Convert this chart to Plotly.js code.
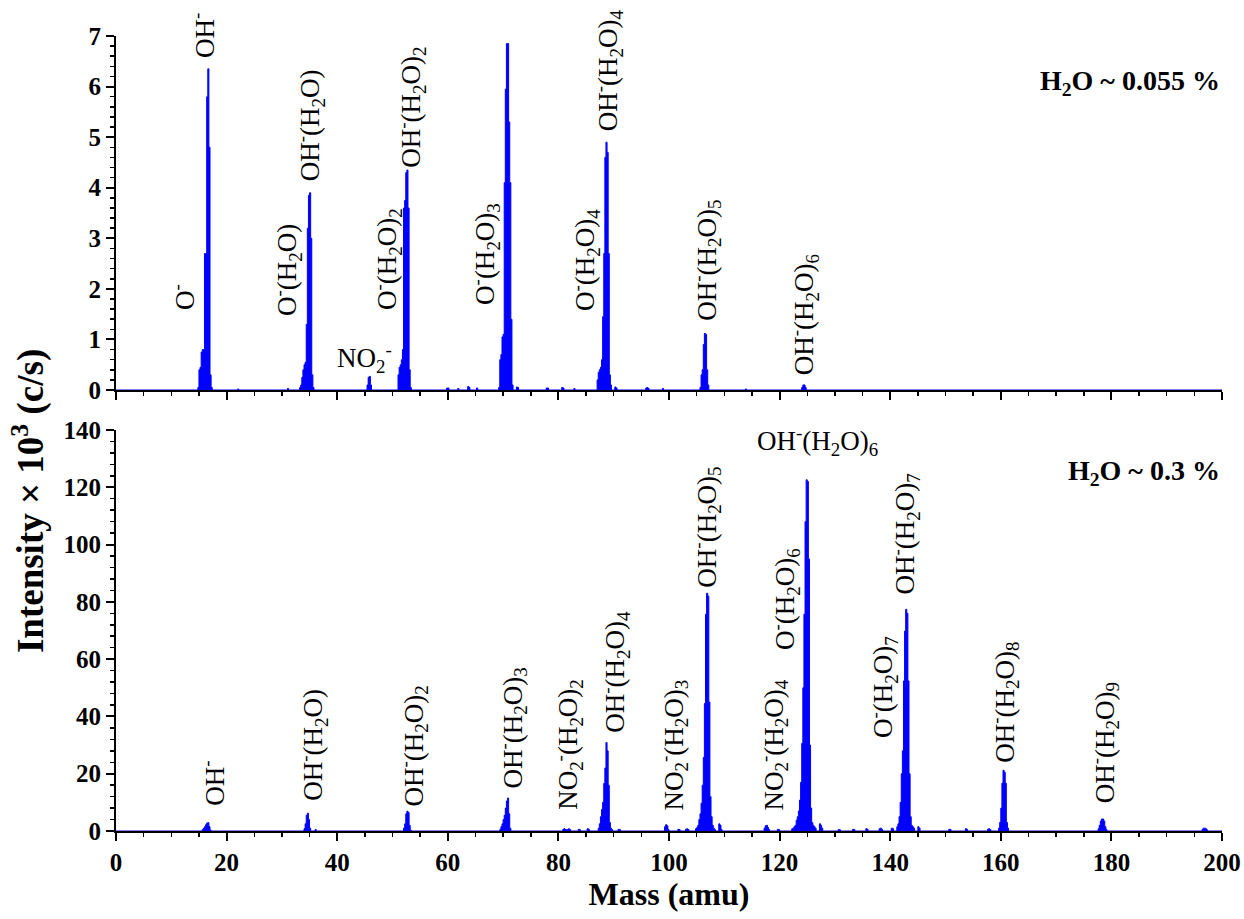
<!DOCTYPE html>
<html>
<head>
<meta charset="utf-8">
<script src="https://cdn.plot.ly/plotly-3.0.1.min.js"></script>
<style>html,body{margin:0;padding:0;background:#fff;}#chart{width:1244px;height:919px;}</style>
</head>
<body>
<div id="chart"></div>
<script>
// ---------- Top panel spectrum (H2O ~ 0.055 %) ----------
const massTop = [0,
14.6,14.8,15.0,15.2,15.4,15.6,15.8,16.0,16.2,16.4,16.6,16.8,17.0,17.2,17.4,
21.8,22.0,22.2,
30.8,31.0,31.2,
33.0,33.2,33.4,33.6,33.8,34.0,34.2,34.4,34.6,34.8,35.0,35.2,35.4,35.6,35.8,
45.2,45.4,45.6,45.8,46.0,46.2,
50.8,51.0,51.2,51.4,51.6,51.8,52.0,52.2,52.4,52.6,52.8,53.0,53.2,53.4,
59.6,59.8,60.0,60.2,
61.6,61.8,62.0,
63.4,63.6,63.8,64.0,
65.0,65.2,65.4,
69.0,69.2,69.4,69.6,69.8,70.0,70.2,70.4,70.6,70.8,71.0,71.2,71.4,71.6,71.8,
72.2,72.4,72.6,72.8,
77.6,77.8,78.0,78.2,
80.4,80.6,80.8,81.0,
82.6,82.8,83.0,
86.8,87.0,87.2,87.4,87.6,87.8,88.0,88.2,88.4,88.6,88.8,89.0,89.2,89.4,89.6,
90.0,90.2,90.4,90.6,
95.6,95.8,96.0,96.2,96.4,
98.6,98.8,99.0,
105.4,105.6,105.8,106.0,106.2,106.4,106.6,106.8,107.0,107.2,
113.6,113.8,114.0,
123.8,124.0,124.2,124.4,124.6,124.8,
200];
const intTop = [0,
0,0.05,0.4,0.45,0.75,0.8,0.8,2.7,2.7,5.8,6.35,4.8,0.3,0.05,0,
0,0.02,0,
0,0.03,0,
0,0.05,0.1,0.25,0.4,0.5,0.55,1.3,3.2,3.85,3.9,3.0,0.3,0.05,0,
0,0.1,0.25,0.27,0.1,0,
0,0.3,0.45,0.5,0.6,0.8,3.6,3.75,4.3,4.35,3.6,0.4,0.05,0,
0,0.04,0.04,0,
0,0.03,0,
0,0.07,0.05,0,
0,0.04,0,
0,0.05,0.6,0.7,1.05,1.1,4.1,5.95,6.85,6.85,5.3,4.1,1.4,0.1,0,
0,0.06,0.05,0,
0,0.04,0.04,0,
0,0.05,0.04,0,
0,0.03,0,
0,0.2,0.35,0.4,0.45,0.6,1.45,2.7,4.6,4.9,4.7,2.7,0.3,0.1,0,
0,0.06,0.04,0,
0,0.04,0.05,0.03,0,
0,0.03,0,
0,0.05,0.3,0.4,0.9,1.12,1.1,0.4,0.1,0,
0,0.02,0,
0,0.05,0.1,0.1,0.05,0,
0];

// ---------- Bottom panel spectrum (H2O ~ 0.3 %) ----------
const massBot = [0,
15.4,15.6,15.8,16.0,16.2,16.4,16.6,16.8,17.0,17.2,
33.8,34.0,34.2,34.4,34.6,34.8,35.0,35.2,35.8,36.0,36.2,
51.8,52.0,52.2,52.4,52.6,52.8,53.0,53.2,53.4,
69.2,69.4,69.6,69.8,70.0,70.2,70.4,70.6,70.8,71.0,71.2,71.4,
80.6,80.8,81.0,81.2,81.4,81.6,81.8,82.0,82.2,83.4,83.6,83.8,84.0,85.0,85.2,85.4,85.6,
87.0,87.2,87.4,87.6,87.8,88.0,88.2,88.4,88.6,88.8,89.0,89.2,89.4,89.6,89.8,90.6,90.8,91.0,91.2,
99.0,99.2,99.4,99.6,99.8,100.0,101.4,101.6,101.8,102.0,102.8,103.0,103.2,103.4,103.6,
104.6,104.8,105.0,105.2,105.4,105.6,105.8,106.0,106.2,106.4,106.6,106.8,107.0,107.2,107.4,107.6,107.8,108.0,108.2,108.4,108.8,109.0,109.2,109.4,109.6,
117.0,117.2,117.4,117.6,117.8,118.0,118.2,119.4,119.6,119.8,120.0,
122.0,122.2,122.4,122.6,122.8,123.0,123.2,123.4,123.6,123.8,124.0,124.2,124.4,124.6,124.8,125.0,125.2,125.4,125.6,125.8,126.0,126.2,126.4,126.6,127.0,127.2,127.4,127.6,127.8,
130.4,130.6,130.8,131.0,133.0,133.2,133.4,133.6,135.4,135.6,135.8,136.0,137.8,138.0,138.2,138.4,138.6,140.0,140.2,140.4,140.6,
141.0,141.2,141.4,141.6,141.8,142.0,142.2,142.4,142.6,142.8,143.0,143.2,143.4,143.6,143.8,144.0,144.2,144.4,144.8,145.0,145.2,145.4,
150.4,150.6,150.8,151.0,153.4,153.6,153.8,154.0,157.4,157.6,157.8,158.0,158.2,
159.4,159.6,159.8,160.0,160.2,160.4,160.6,160.8,161.0,161.2,161.4,
177.4,177.6,177.8,178.0,178.2,178.4,178.6,178.8,179.0,179.2,
196.2,196.4,196.6,196.8,197.0,197.2,197.4,
200];
const intBot = [0,
0,0.5,1.0,1.5,2.2,2.8,2.9,1.5,0.3,0,
0,0.8,2.5,5.5,6.2,4.0,1.0,0,0,0.5,0,
0,1.0,2.5,6.0,6.9,6.5,2.0,0.3,0,
0,0.5,1.5,2.5,4.0,5.5,8.0,10.5,11.5,6.0,1.0,0,
0,0.6,0.8,0.5,0.4,0.5,0.8,0.5,0,0,0.6,0.4,0,0,0.8,0.6,0,
0,1.0,2.5,5.0,7.5,10.0,16.6,22.0,30.9,28.0,16.0,3.0,1.0,0.5,0,0,0.6,0.5,0,
0,1.5,2.2,1.8,0.5,0,0,0.6,0.5,0,0,0.6,0.8,0.5,0,
0,0.8,1.2,2.0,4.0,6.0,9.7,16.0,25.7,44.5,75.7,83.0,82.0,45.0,12.0,5.0,2.0,1.0,0.5,0,0,2.5,2.0,0.5,0,
0,1.0,1.8,2.0,1.2,0.5,0,0,0.6,0.5,0,
0,0.8,1.0,1.5,2.0,3.8,5.0,7.0,10.8,17.0,30.6,50.0,75.7,108.0,122.6,122.0,95.0,30.0,8.0,3.0,2.0,1.5,1.0,0,0,2.5,2.0,1.0,0,
0,0.5,0.4,0,0,0.6,0.5,0,0,0.8,0.6,0,0,0.8,1.0,0.6,0,0,1.0,0.8,0,
0,1.5,2.5,5.0,10.0,20.0,28.0,52.4,69.8,77.4,76.0,52.4,20.0,5.0,2.0,1.5,1.0,0,0,1.5,1.0,0,
0,0.6,0.5,0,0,0.8,0.6,0,0,0.6,0.8,0.5,0,
0,1.0,3.0,8.0,16.7,21.2,20.5,16.7,3.0,1.0,0,
0,0.8,2.0,3.5,4.2,4.2,3.5,1.5,0.5,0,
0,0.6,1.0,1.0,0.8,0.4,0,
0];

// ---------- Peak labels ----------
const OHm = 'OH<sup>-</sup>';
const Om = 'O<sup>-</sup>';
const NO2m = 'NO<sub>2</sub><sup>-</sup>';
const W = n => '(H<sub>2</sub>O)' + (n > 1 ? '<sub>' + n + '</sub>' : '');

const labelsTop = [Om, OHm, Om + W(1), OHm + W(1), NO2m, Om + W(2), OHm + W(2), Om + W(3), OHm + W(3), Om + W(4), OHm + W(4), OHm + W(5), OHm + W(6)];
const labelTopX = [12.1, 15.7, 30.9, 35.1, 45.0, 49.0, 53.2, 66.7, 72.3, 84.8, 89.0, 106.7, 124.4];
const labelTopY = [1.54, 6.53, 1.42, 4.09, 0.63, 1.54, 4.35, 1.64, 7.28, 1.52, 5.08, 1.32, 0.26];
const labelTopVertical = [true, true, true, true, false, true, true, true, false, true, true, true, true];

const labelsBot = [OHm, OHm + W(1), OHm + W(2), OHm + W(3), NO2m + W(2), OHm + W(4), NO2m + W(3), OHm + W(5), NO2m + W(4), Om + W(6), OHm + W(6), Om + W(7), OHm + W(7), OHm + W(8), OHm + W(9)];
const labelBotX = [17.4, 35.6, 53.7, 71.6, 81.6, 90.2, 100.7, 106.7, 118.8, 121.0, 126.8, 138.7, 142.7, 160.6, 178.8];
const labelBotY = [8.0, 9.8, 8.0, 14.3, 6.6, 33.5, 6.6, 84.1, 6.6, 62.5, 136.2, 31.8, 81.7, 23.0, 9.1];
const labelBotVertical = [true, true, true, true, true, true, true, true, true, true, false, true, true, true, true];

const panelTitles = ['H<sub>2</sub>O ~ 0.055 %', 'H<sub>2</sub>O ~ 0.3 %'];
const xTitle = 'Mass (amu)';
const yTitle = 'Intensity × 10<sup>3</sup> (c/s)';

// ---------- Build ----------
const serif = 'Liberation Serif';
const blue = '#0000ff';

const traces = [
  {x: massTop, y: intTop, xaxis: 'x', yaxis: 'y', type: 'scatter', mode: 'lines',
   line: {color: blue, width: 1, shape: 'hv'}, fill: 'tozeroy', fillcolor: blue, hoverinfo: 'x+y'},
  {x: massBot, y: intBot, xaxis: 'x2', yaxis: 'y2', type: 'scatter', mode: 'lines',
   line: {color: blue, width: 1, shape: 'hv'}, fill: 'tozeroy', fillcolor: blue, hoverinfo: 'x+y'}
];

const labelFont = {family: serif, size: 27, color: '#000'};
const annotations = [];
function addLabels(texts, xs, ys, vert, xref, yref) {
  texts.forEach((t, i) => {
    annotations.push({
      text: t, x: xs[i], y: ys[i], xref: xref, yref: yref,
      showarrow: false, font: labelFont,
      textangle: vert[i] ? -90 : 0,
      xanchor: 'center', yanchor: vert[i] ? 'bottom' : 'middle'
    });
  });
}
addLabels(labelsTop, labelTopX, labelTopY, labelTopVertical, 'x', 'y');
addLabels(labelsBot, labelBotX, labelBotY, labelBotVertical, 'x2', 'y2');

const boldFont = (s) => ({family: serif, size: s, color: '#000', weight: 'bold'});
annotations.push({text: panelTitles[0], xref: 'paper', yref: 'paper', x: 1, y: 0.942, xanchor: 'right', yanchor: 'middle', showarrow: false, font: boldFont(28)});
annotations.push({text: panelTitles[1], xref: 'paper', yref: 'paper', x: 1, y: 0.451, xanchor: 'right', yanchor: 'middle', showarrow: false, font: boldFont(28)});
annotations.push({text: yTitle, xref: 'paper', yref: 'paper', x: 0, xshift: -87, y: 0.415, xanchor: 'center', yanchor: 'middle', textangle: -90, showarrow: false, font: boldFont(37)});

const xBase = {
  range: [0, 200], dtick: 20, tick0: 0, ticks: 'outside', ticklen: 8, tickwidth: 2, tickcolor: '#000',
  showline: true, linecolor: '#000', linewidth: 2, showgrid: false, zeroline: false,
  minor: {dtick: 5, ticks: 'outside', ticklen: 4, tickwidth: 1.5, tickcolor: '#000', showgrid: false},
  tickfont: boldFont(25), fixedrange: true
};
const yBase = {
  ticks: 'outside', ticklen: 8, tickwidth: 2, tickcolor: '#000',
  showline: true, linecolor: '#000', linewidth: 2, showgrid: false, zeroline: false,
  tickfont: boldFont(25), fixedrange: true
};

const layout = {
  width: 1244, height: 919,
  margin: {l: 116, r: 22, t: 36, b: 88},
  font: {family: serif, color: '#000'},
  paper_bgcolor: '#fff', plot_bgcolor: '#fff',
  showlegend: false,
  xaxis: Object.assign({}, xBase, {anchor: 'y', domain: [0, 1], showticklabels: false}),
  xaxis2: Object.assign({}, xBase, {anchor: 'y2', domain: [0, 1], showticklabels: true,
    title: {text: xTitle, font: boldFont(32), standoff: 8}}),
  yaxis: Object.assign({}, yBase, {anchor: 'x', domain: [0.5547, 1], range: [0, 7], dtick: 1,
    minor: {dtick: 0.2, ticks: 'outside', ticklen: 4, tickwidth: 1.5, tickcolor: '#000', showgrid: false}}),
  yaxis2: Object.assign({}, yBase, {anchor: 'x2', domain: [0, 0.5044], range: [0, 140], dtick: 20,
    minor: {dtick: 4, ticks: 'outside', ticklen: 4, tickwidth: 1.5, tickcolor: '#000', showgrid: false}}),
  annotations: annotations
};

Plotly.newPlot('chart', traces, layout, {staticPlot: true, displayModeBar: false});
</script>
</body>
</html>
